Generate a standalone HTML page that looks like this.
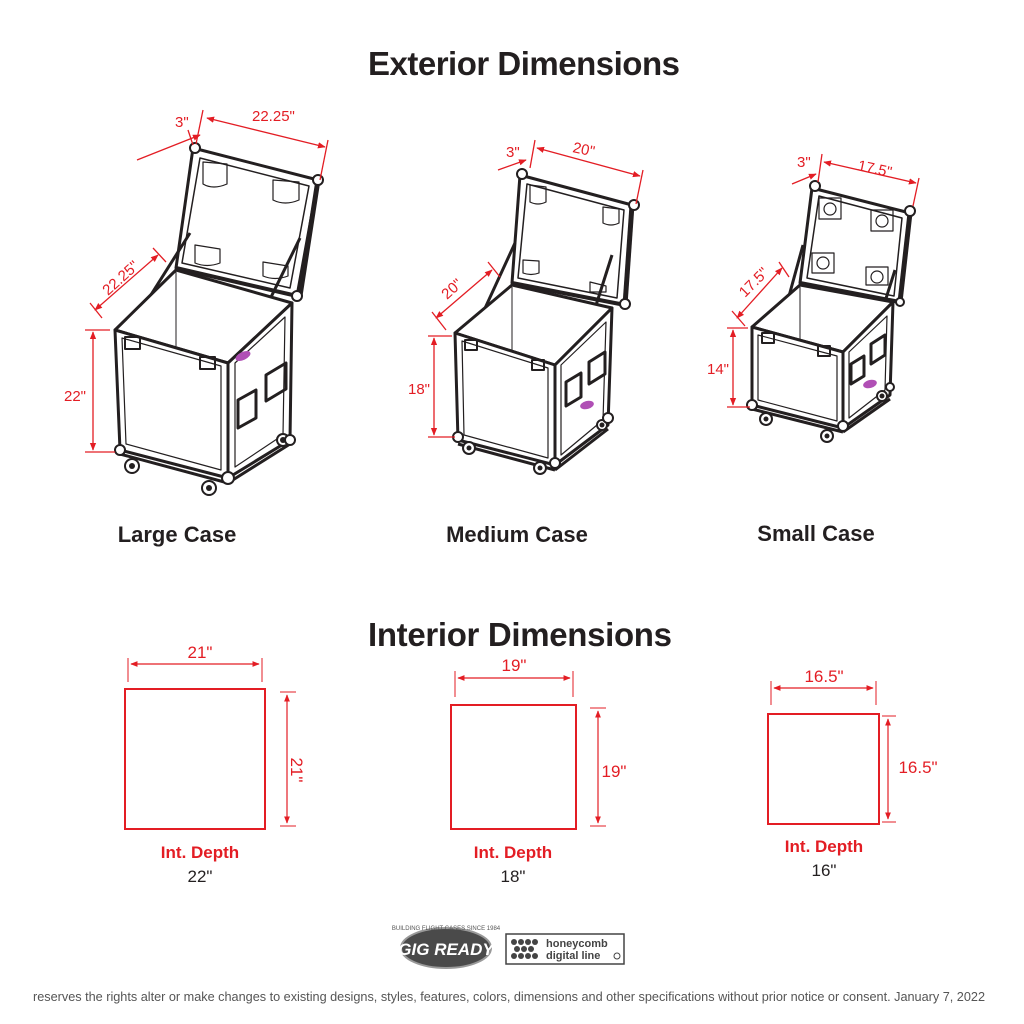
<!DOCTYPE html>
<html><head><meta charset="utf-8"><style>
html,body{margin:0;padding:0;background:#fff}
svg{display:block}
.t{font-family:"Liberation Sans",sans-serif}
</style></head><body>
<svg width="1024" height="1024" viewBox="0 0 1024 1024" xmlns="http://www.w3.org/2000/svg" class="t">
<defs>
<marker id="a" viewBox="0 0 10 10" refX="9" refY="5" markerWidth="6" markerHeight="6" orient="auto-start-reverse"><path d="M0,1 L10,5 L0,9z" fill="#e31d24"/></marker>
</defs>
<rect width="1024" height="1024" fill="#fff"/>
<text x="524" y="75" font-size="33" font-weight="bold" text-anchor="middle" fill="#231f20" textLength="312">Exterior Dimensions</text>
<text x="520" y="646" font-size="33" font-weight="bold" text-anchor="middle" fill="#231f20" textLength="304">Interior Dimensions</text>
<text x="177" y="542" font-size="22" font-weight="bold" text-anchor="middle" fill="#231f20">Large Case</text>
<text x="517" y="542" font-size="22" font-weight="bold" text-anchor="middle" fill="#231f20">Medium Case</text>
<text x="816" y="541" font-size="22" font-weight="bold" text-anchor="middle" fill="#231f20">Small Case</text>

<!-- LARGE CASE -->
<g fill="none" stroke="#231f20" stroke-linejoin="round">
<polygon points="193,148 318,180 297,296 176,268" stroke-width="3" fill="#fff"/>
<polygon points="200,158 309,186 290,288 182,263" stroke-width="1.5"/>
<line x1="176" y1="268" x2="297" y2="296" stroke-width="4"/>
<line x1="318" y1="180" x2="300" y2="296" stroke-width="5"/>
<path d="M203,162 q0,22 0,22 q10,6 24,0 v-20z M273,180 v20 q12,6 26,0 v-18z M195,245 v18 q12,5 25,0 v-14z M263,262 v14 q12,5 25,0 v-10z" stroke-width="1.2"/>
<line x1="130" y1="328" x2="190" y2="233" stroke-width="3"/>
<line x1="250" y1="340" x2="300" y2="238" stroke-width="3"/>
<polygon points="115,330 176,270 292,303 228,363" stroke-width="3" fill="#fff"/>
<line x1="176" y1="272" x2="176" y2="356" stroke-width="1"/>
<polygon points="115,330 228,363 228,478 120,450" stroke-width="3" fill="#fff"/>
<polygon points="122,338 221,366 221,470 126,444" stroke-width="1.2"/>
<polygon points="228,363 292,303 290,440 228,478" stroke-width="3" fill="#fff"/>
<polygon points="235,363 285,317 283,435 235,467" stroke-width="1.2"/>
<path d="M238,400 l18,-10 v28 l-18,10z M266,375 l20,-12 v26 l-20,12z" stroke-width="3"/>
<path d="M125,337 h15 v12 h-15z M200,357 h15 v12 h-15z" stroke-width="2"/>
<line x1="120" y1="454" x2="228" y2="483" stroke-width="3"/>
<line x1="228" y1="483" x2="290" y2="444" stroke-width="3"/>
<g stroke-width="2" fill="#fff"><circle cx="132" cy="466" r="7"/><circle cx="209" cy="488" r="7"/><circle cx="283" cy="440" r="6"/>
<circle cx="120" cy="450" r="5"/><circle cx="228" cy="478" r="6"/><circle cx="290" cy="440" r="5"/><circle cx="195" cy="148" r="5"/><circle cx="318" cy="180" r="5"/><circle cx="297" cy="296" r="5"/></g>
<g fill="#231f20" stroke="none"><circle cx="132" cy="466" r="3"/><circle cx="209" cy="488" r="3"/><circle cx="283" cy="440" r="3"/></g>
</g>
<ellipse cx="243" cy="356" rx="8" ry="4" fill="#b04fb5" transform="rotate(-25 243 356)"/>
<g stroke="#e31d24" stroke-width="1.3" fill="none">
<line x1="93" y1="332" x2="93" y2="450" marker-start="url(#a)" marker-end="url(#a)"/>
<line x1="85" y1="330" x2="110" y2="330"/><line x1="85" y1="452" x2="115" y2="452"/>
<line x1="95" y1="310" x2="158" y2="255" marker-start="url(#a)" marker-end="url(#a)"/>
<line x1="90" y1="303" x2="102" y2="318"/><line x1="153" y1="248" x2="166" y2="262"/>
<line x1="137" y1="160" x2="200" y2="135" marker-end="url(#a)"/>
<line x1="207" y1="118" x2="325" y2="147" marker-start="url(#a)" marker-end="url(#a)"/>
<line x1="203" y1="110" x2="196" y2="144"/><line x1="328" y1="140" x2="320" y2="180"/><line x1="188" y1="130" x2="193" y2="145"/>
</g>
<g fill="#e31d24" font-size="15">
<text x="64" y="401">22"</text>
<text x="175" y="127">3"</text>
<text x="252" y="121">22.25"</text>
<text x="108" y="296" transform="rotate(-42 108 296)">22.25"</text>
</g>

<!-- MEDIUM CASE -->
<g fill="none" stroke="#231f20" stroke-linejoin="round">
<polygon points="520,175 632,205 625,305 512,283" stroke-width="3" fill="#fff"/>
<polygon points="527,184 624,210 617,298 518,278" stroke-width="1.5"/>
<line x1="512" y1="283" x2="625" y2="305" stroke-width="4"/>
<line x1="632" y1="205" x2="625" y2="305" stroke-width="5"/>
<path d="M530,185 v17 q8,4 16,0 v-15z M603,207 v16 q8,4 16,0 v-14z M523,260 v13 q8,3 16,0 v-12z M590,282 v10 h16 v-6z" stroke-width="1.2"/>
<line x1="475" y1="330" x2="515" y2="243" stroke-width="3"/>
<line x1="585" y1="340" x2="612" y2="255" stroke-width="3"/>
<polygon points="455,333 512,285 612,308 555,365" stroke-width="3" fill="#fff"/>
<line x1="512" y1="287" x2="512" y2="350" stroke-width="1"/>
<polygon points="455,333 555,365 555,465 458,440" stroke-width="3" fill="#fff"/>
<polygon points="462,341 548,368 548,458 464,435" stroke-width="1.2"/>
<polygon points="555,365 612,308 608,425 555,465" stroke-width="3" fill="#fff"/>
<polygon points="561,365 606,322 603,420 561,455" stroke-width="1.2"/>
<path d="M566,382 l15,-9 v24 l-15,9z M589,362 l16,-10 v22 l-16,10z" stroke-width="3"/>
<path d="M465,340 h12 v10 h-12z M532,360 h12 v10 h-12z" stroke-width="2"/>
<line x1="458" y1="444" x2="555" y2="470" stroke-width="3"/>
<line x1="555" y1="470" x2="608" y2="429" stroke-width="3"/>
<g stroke-width="2" fill="#fff"><circle cx="469" cy="448" r="6"/><circle cx="540" cy="468" r="6"/><circle cx="602" cy="425" r="5"/>
<circle cx="458" cy="437" r="5"/><circle cx="555" cy="463" r="5"/><circle cx="608" cy="418" r="5"/><circle cx="522" cy="174" r="5"/><circle cx="634" cy="205" r="5"/><circle cx="625" cy="304" r="5"/></g>
<g fill="#231f20" stroke="none"><circle cx="469" cy="448" r="2.5"/><circle cx="540" cy="468" r="2.5"/><circle cx="602" cy="425" r="2.5"/></g>
</g>
<ellipse cx="587" cy="405" rx="7" ry="4" fill="#b04fb5" transform="rotate(-15 587 405)"/>
<g stroke="#e31d24" stroke-width="1.3" fill="none">
<line x1="434" y1="338" x2="434" y2="435" marker-start="url(#a)" marker-end="url(#a)"/>
<line x1="428" y1="336" x2="452" y2="336"/><line x1="428" y1="437" x2="455" y2="437"/>
<line x1="436" y1="318" x2="492" y2="270" marker-start="url(#a)" marker-end="url(#a)"/>
<line x1="432" y1="312" x2="446" y2="330"/><line x1="488" y1="262" x2="500" y2="277"/>
<line x1="498" y1="170" x2="526" y2="160" marker-end="url(#a)"/>
<line x1="537" y1="148" x2="640" y2="176" marker-start="url(#a)" marker-end="url(#a)"/>
<line x1="535" y1="140" x2="530" y2="168"/><line x1="643" y1="170" x2="636" y2="204"/>
</g>
<g fill="#e31d24" font-size="15">
<text x="408" y="394">18"</text>
<text x="506" y="157">3"</text>
<text x="572" y="152" transform="rotate(12 572 152)">20"</text>
<text x="447" y="300" transform="rotate(-42 447 300)">20"</text>
</g>

<!-- SMALL CASE -->
<g fill="none" stroke="#231f20" stroke-linejoin="round">
<polygon points="812,188 910,213 900,302 800,283" stroke-width="3" fill="#fff"/>
<polygon points="819,196 902,218 894,296 807,278" stroke-width="1.5"/>
<line x1="800" y1="283" x2="900" y2="302" stroke-width="4"/>
<line x1="910" y1="213" x2="900" y2="302" stroke-width="5"/>
<path d="M819,198 h22 v21 h-22z M871,210 h22 v21 h-22z M812,253 h22 v20 h-22z M866,267 h22 v18 h-22z" stroke-width="1.2"/>
<g stroke-width="1.2"><circle cx="830" cy="209" r="6"/><circle cx="882" cy="221" r="6"/><circle cx="823" cy="263" r="6"/><circle cx="877" cy="277" r="6"/></g>
<line x1="783" y1="318" x2="803" y2="245" stroke-width="3"/>
<line x1="876" y1="330" x2="895" y2="270" stroke-width="3"/>
<polygon points="752,327 800,285 893,302 843,352" stroke-width="3" fill="#fff"/>
<line x1="800" y1="287" x2="800" y2="340" stroke-width="1"/>
<polygon points="752,327 843,352 843,428 752,405" stroke-width="3" fill="#fff"/>
<polygon points="758,335 837,356 837,421 758,400" stroke-width="1.2"/>
<polygon points="843,352 893,302 890,395 843,428" stroke-width="3" fill="#fff"/>
<polygon points="849,352 887,316 885,390 849,418" stroke-width="1.2"/>
<path d="M851,364 l13,-8 v20 l-13,8z M871,344 l14,-9 v20 l-14,9z" stroke-width="3"/>
<path d="M762,333 h12 v10 h-12z M818,346 h12 v10 h-12z" stroke-width="2"/>
<line x1="752" y1="409" x2="843" y2="432" stroke-width="3"/>
<line x1="843" y1="432" x2="890" y2="399" stroke-width="3"/>
<g stroke-width="2" fill="#fff"><circle cx="766" cy="419" r="6"/><circle cx="827" cy="436" r="6"/><circle cx="882" cy="396" r="5"/>
<circle cx="752" cy="405" r="5"/><circle cx="843" cy="426" r="5"/><circle cx="890" cy="387" r="4"/><circle cx="815" cy="186" r="5"/><circle cx="910" cy="211" r="5"/><circle cx="900" cy="302" r="4"/></g>
<g fill="#231f20" stroke="none"><circle cx="766" cy="419" r="2.5"/><circle cx="827" cy="436" r="2.5"/><circle cx="882" cy="396" r="2.5"/></g>
</g>
<ellipse cx="870" cy="384" rx="7" ry="4" fill="#b04fb5" transform="rotate(-15 870 384)"/>
<g stroke="#e31d24" stroke-width="1.3" fill="none">
<line x1="733" y1="330" x2="733" y2="405" marker-start="url(#a)" marker-end="url(#a)"/>
<line x1="727" y1="328" x2="748" y2="328"/><line x1="727" y1="407" x2="750" y2="407"/>
<line x1="737" y1="318" x2="782" y2="268" marker-start="url(#a)" marker-end="url(#a)"/>
<line x1="732" y1="311" x2="745" y2="326"/><line x1="779" y1="262" x2="789" y2="277"/>
<line x1="792" y1="184" x2="816" y2="174" marker-end="url(#a)"/>
<line x1="824" y1="162" x2="916" y2="183" marker-start="url(#a)" marker-end="url(#a)"/>
<line x1="822" y1="154" x2="818" y2="182"/><line x1="919" y1="178" x2="913" y2="206"/>
</g>
<g fill="#e31d24" font-size="15">
<text x="707" y="374">14"</text>
<text x="797" y="167">3"</text>
<text x="857" y="170" transform="rotate(12 857 170)">17.5"</text>
<text x="745" y="298" transform="rotate(-45 745 298)">17.5"</text>
</g>

<!-- INTERIOR -->
<g fill="none" stroke="#e31d24">
<rect x="125" y="689" width="140" height="140" stroke-width="2"/>
<line x1="131" y1="664" x2="259" y2="664" stroke-width="1.2" marker-start="url(#a)" marker-end="url(#a)"/>
<line x1="128" y1="658" x2="128" y2="682" stroke-width="1"/><line x1="262" y1="658" x2="262" y2="682" stroke-width="1"/>
<line x1="287" y1="695" x2="287" y2="823" stroke-width="1.2" marker-start="url(#a)" marker-end="url(#a)"/>
<line x1="280" y1="692" x2="296" y2="692" stroke-width="1"/><line x1="280" y1="826" x2="296" y2="826" stroke-width="1"/>

<rect x="451" y="705" width="125" height="124" stroke-width="2"/>
<line x1="458" y1="678" x2="570" y2="678" stroke-width="1.2" marker-start="url(#a)" marker-end="url(#a)"/>
<line x1="455" y1="671" x2="455" y2="697" stroke-width="1"/><line x1="573" y1="671" x2="573" y2="697" stroke-width="1"/>
<line x1="598" y1="711" x2="598" y2="823" stroke-width="1.2" marker-start="url(#a)" marker-end="url(#a)"/>
<line x1="590" y1="708" x2="606" y2="708" stroke-width="1"/><line x1="590" y1="826" x2="606" y2="826" stroke-width="1"/>

<rect x="768" y="714" width="111" height="110" stroke-width="2"/>
<line x1="774" y1="688" x2="873" y2="688" stroke-width="1.2" marker-start="url(#a)" marker-end="url(#a)"/>
<line x1="771" y1="681" x2="771" y2="705" stroke-width="1"/><line x1="876" y1="681" x2="876" y2="705" stroke-width="1"/>
<line x1="888" y1="719" x2="888" y2="819" stroke-width="1.2" marker-start="url(#a)" marker-end="url(#a)"/>
<line x1="882" y1="716" x2="896" y2="716" stroke-width="1"/><line x1="882" y1="822" x2="896" y2="822" stroke-width="1"/>
</g>
<g fill="#e31d24" font-size="17" text-anchor="middle">
<text x="200" y="658">21"</text>
<text x="514" y="671">19"</text>
<text x="824" y="682">16.5"</text>
<text x="291" y="770" transform="rotate(90 291 770)">21"</text>
<text x="614" y="777">19"</text>
<text x="918" y="773">16.5"</text>
<g font-weight="bold"><text x="200" y="858">Int. Depth</text><text x="513" y="858">Int. Depth</text><text x="824" y="852">Int. Depth</text></g>
</g>
<g fill="#231f20" font-size="17" text-anchor="middle">
<text x="200" y="882">22"</text><text x="513" y="882">18"</text><text x="824" y="876">16"</text>
</g>

<!-- LOGOS -->
<ellipse cx="446" cy="948" rx="45" ry="20" fill="#4a4a4a" stroke="#999" stroke-width="2"/>
<text x="446" y="955" font-size="17" font-weight="bold" font-style="italic" fill="#fff" text-anchor="middle">GIG READY</text>
<text x="446" y="930" font-size="6" fill="#555" text-anchor="middle">BUILDING FLIGHT CASES SINCE 1984</text>
<rect x="506" y="934" width="118" height="30" fill="#fff" stroke="#444" stroke-width="1.5"/>
<g fill="#444"><circle cx="514" cy="942" r="3"/><circle cx="521" cy="942" r="3"/><circle cx="528" cy="942" r="3"/><circle cx="535" cy="942" r="3"/><circle cx="517" cy="949" r="3"/><circle cx="524" cy="949" r="3"/><circle cx="531" cy="949" r="3"/><circle cx="514" cy="956" r="3"/><circle cx="521" cy="956" r="3"/><circle cx="528" cy="956" r="3"/><circle cx="535" cy="956" r="3"/></g>
<text x="546" y="947" font-size="11" font-weight="bold" fill="#444">honeycomb</text>
<text x="546" y="959" font-size="11" font-weight="bold" fill="#444">digital line</text>
<circle cx="617" cy="956" r="3" fill="none" stroke="#444"/>

<text x="509" y="1001" font-size="12.7" fill="#555" text-anchor="middle" textLength="952">reserves the rights alter or make changes to existing designs, styles, features, colors, dimensions and other specifications without prior notice or consent.  January 7, 2022</text>
</svg>
</body></html>
